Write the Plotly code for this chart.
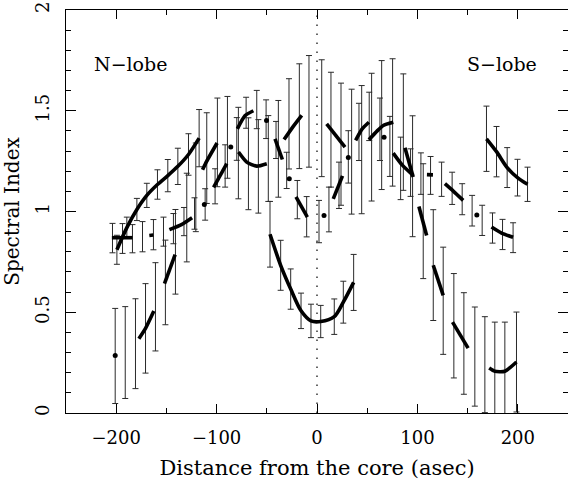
import plotly.graph_objects as go

# ---------------- Profile A (solid line, three stretches) ----------------
a_north_x = [-199.3, -189.4, -179.4, -169.5, -158.9, -148.6, -138.6, -128.0, -117.4]
a_north_y = [0.81, 0.92, 1.01, 1.08, 1.134, 1.178, 1.224, 1.283, 1.364]
a_north_err = [0.072, 0.052, 0.055, 0.06, 0.073, 0.08, 0.09, 0.103, 0.142]

a_core_x = [-46.8, -36.2, -26.2, -15.9, -6.0, 3.7, 17.2, 26.2, 36.5]
a_core_y = [0.887, 0.733, 0.615, 0.507, 0.457, 0.454, 0.478, 0.55, 0.648]
a_core_err = [0.163, 0.124, 0.1, 0.088, 0.083, 0.08, 0.088, 0.104, 0.139]

a_south_x = [168.8, 178.8, 189.4, 199.7, 209.7]
a_south_y = [1.361, 1.297, 1.218, 1.168, 1.135]
a_south_err = [0.162, 0.125, 0.099, 0.091, 0.085]

# ---------------- Profile B (dash-dot line) ----------------
b_x = [-203.7, -193.7, -183.8, -173.8, -162.9, -152.9, -143.0, -132.5, -122.0, -111.4,
       -101.5, -91.5, -79.9, -70.6, -60.0, -50.7, -40.8, -30.2, -19.6, -10.3,
       2.0, 11.9, 21.9, 31.2, 41.8, 52.0, 62.7, 72.6, 83.3, 93.2,
       103.5, 113.1, 124.1, 134.6, 144.6, 154.5, 164.5, 174.8, 184.8, 195.3]
b_y = [0.868, 0.866, 0.865, 0.875, 0.885, 0.90, 0.915, 0.95, 0.99, 1.035,
       1.125, 1.226, 1.36, 1.49, 1.506, 1.458, 1.355, 1.204, 1.059, 0.974,
       0.95, 1.01, 1.13, 1.271, 1.395, 1.472, 1.408, 1.323, 1.214, 1.193,
       1.188, 1.179, 1.16, 1.115, 1.061, 1.004, 0.956, 0.918, 0.886, 0.87]
b_err = [0.073, 0.074, 0.07, 0.075, 0.075, 0.072, 0.075, 0.07, 0.078, 0.078,
         0.087, 0.105, 0.106, 0.077, 0.095, 0.096, 0.092, 0.09, 0.095, 0.1,
         0.105, 0.111, 0.115, 0.13, 0.142, 0.12, 0.155, 0.149, 0.155, 0.118,
         0.103, 0.094, 0.085, 0.08, 0.077, 0.076, 0.075, 0.075, 0.075, 0.074]
# visible pieces of the dash-dot curve (single points are the dots)
b_pieces = [
    [(-204.3, 0.87), (-183.8, 0.87)],
    [(-167.0, 0.881), (-163.0, 0.883)],
    [(-147.0, 0.91), (-135.0, 0.935), (-124.4, 0.969)],
    [(-112.2, 1.035)],
    [(-103.0, 1.12), (-89.9, 1.237)],
    [(-85.9, 1.32)],
    [(-79.3, 1.41), (-71.6, 1.476), (-63.4, 1.50)],
    [(-50.3, 1.452)],
    [(-41.8, 1.36), (-34.5, 1.258)],
    [(-27.6, 1.163)],
    [(-20.9, 1.072), (-9.6, 0.972)],
    [(7.0, 0.98)],
    [(16.2, 1.063), (25.4, 1.177)],
    [(31.2, 1.268)],
    [(38.5, 1.353), (45.0, 1.41), (51.7, 1.443)],
    [(66.8, 1.369)],
    [(75.9, 1.29), (85.0, 1.23), (95.8, 1.179)],
    [(109.5, 1.183), (115.5, 1.182)],
    [(127.4, 1.138), (136.0, 1.1), (145.6, 1.055)],
    [(159.2, 0.983)],
    [(173.8, 0.923), (183.8, 0.893), (195.3, 0.872)],
]

# ---------------- Profile C (dashed line) ----------------
c_x = [-201.0, -191.0, -180.8, -170.8, -160.9, -151.0, -141.0, -129.7, -120.7, -109.8,
       -99.2, -89.2, -78.3, -68.3, -58.4, -48.5, -38.5, -27.9, -17.6, -8.0,
       4.7, 13.9, 23.9, 34.5, 44.5, 54.4, 64.4, 75.3, 86.0, 95.2,
       105.8, 115.8, 125.7, 136.3, 146.3, 157.2, 167.2, 177.1, 187.1, 198.7]
c_y = [0.283, 0.30, 0.344, 0.42, 0.527, 0.648, 0.80, 0.97, 1.12, 1.265,
       1.343, 1.368, 1.29, 1.237, 1.224, 1.263, 1.311, 1.435, 1.473, 1.497,
       1.463, 1.406, 1.334, 1.297, 1.307, 1.369, 1.429, 1.442, 1.394, 1.175,
       0.952, 0.734, 0.557, 0.433, 0.345, 0.28, 0.24, 0.207, 0.207, 0.253]
c_err = [0.236, 0.228, 0.223, 0.222, 0.219, 0.21, 0.21, 0.22, 0.22, 0.225,
         0.22, 0.203, 0.227, 0.228, 0.232, 0.213, 0.24, 0.224, 0.26, 0.277,
         0.29, 0.285, 0.303, 0.31, 0.318, 0.317, 0.32, 0.316, 0.289, 0.30,
         0.285, 0.275, 0.266, 0.259, 0.252, 0.246, 0.238, 0.244, 0.244, 0.248]
c_pieces = [
    [(-201.0, 0.285)],
    [(-177.4, 0.369), (-170.8, 0.42), (-162.5, 0.506)],
    [(-151.9, 0.642), (-141.3, 0.786)],
    [(-114.0, 1.207), (-109.8, 1.25), (-99.5, 1.34)],
    [(-78.2, 1.295), (-70.0, 1.245), (-60.0, 1.225), (-50.0, 1.237)],
    [(-32.8, 1.357), (-24.0, 1.42), (-15.2, 1.477)],
    [(9.6, 1.435), (27.9, 1.32)],
    [(51.7, 1.356), (60.0, 1.40), (66.0, 1.427), (76.0, 1.443)],
    [(87.6, 1.316), (95.8, 1.171)],
    [(101.5, 1.025), (109.2, 0.881)],
    [(115.8, 0.733), (125.7, 0.584)],
    [(135.0, 0.451), (150.5, 0.322)],
    [(171.5, 0.223), (177.1, 0.207), (187.1, 0.207), (198.7, 0.253)],
]

x_tick_vals = [-200, -100, 0, 100, 200]
y_tick_vals = [0, 0.5, 1, 1.5, 2]
labels = [("N\u2212lobe", -224.0, 1.73, "left"), ("S\u2212lobe", 221.0, 1.73, "right")]

FONT = "DejaVu Serif"
fig = go.Figure()


def err_trace(x, y, e):
    return go.Scatter(
        x=x, y=y, mode="markers",
        marker=dict(size=2, color="rgba(0,0,0,0)"),
        error_y=dict(type="data", array=e, visible=True, color="#2a2a2a",
                     thickness=1, width=3),
        showlegend=False, hoverinfo="skip")


def split_pieces(pieces):
    lx, ly, dx, dy = [], [], [], []
    for p in pieces:
        if len(p) == 1:
            dx.append(p[0][0])
            dy.append(p[0][1])
        else:
            for (px, py) in p:
                lx.append(px)
                ly.append(py)
            lx.append(None)
            ly.append(None)
    return lx, ly, dx, dy


# error bars
for xs, ys, es in [(a_north_x, a_north_y, a_north_err), (a_core_x, a_core_y, a_core_err),
                   (a_south_x, a_south_y, a_south_err), (b_x, b_y, b_err), (c_x, c_y, c_err)]:
    fig.add_trace(err_trace(xs, ys, es))

# solid profile A
for xs, ys in [(a_north_x, a_north_y), (a_core_x, a_core_y), (a_south_x, a_south_y)]:
    fig.add_trace(go.Scatter(x=xs, y=ys, mode="lines",
                             line=dict(color="black", width=3.6, shape="spline", smoothing=0.8),
                             showlegend=False, hoverinfo="skip"))

# broken profiles B and C
for pieces in (b_pieces, c_pieces):
    lx, ly, dx, dy = split_pieces(pieces)
    fig.add_trace(go.Scatter(x=lx, y=ly, mode="lines", connectgaps=False,
                             line=dict(color="black", width=3.6, shape="spline", smoothing=0.6),
                             showlegend=False, hoverinfo="skip"))
    fig.add_trace(go.Scatter(x=dx, y=dy, mode="markers",
                             marker=dict(color="black", size=5),
                             showlegend=False, hoverinfo="skip"))

# dotted line at the core
fig.add_shape(type="line", x0=0, x1=0, y0=0, y1=2, xref="x", yref="y",
              line=dict(color="black", width=1.2, dash="1.5px,7.5px"), layer="below")

for text, lx, ly, anchor in labels:
    fig.add_annotation(x=lx, y=ly, xref="x", yref="y", text=text, showarrow=False,
                       xanchor=anchor, yanchor="middle",
                       font=dict(family=FONT, size=19, color="black"))

fig.update_layout(
    width=568, height=485,
    margin=dict(l=66, r=0, t=10, b=72, autoexpand=False),
    paper_bgcolor="white", plot_bgcolor="white",
    showlegend=False,
    font=dict(family=FONT, size=18, color="black"),
)
fig.update_xaxes(
    range=[-250, 250], tickmode="array", tickvals=x_tick_vals,
    ticks="inside", ticklen=9, tickwidth=1, tickcolor="black",
    minor=dict(ticks="inside", ticklen=5, tickwidth=1, tickcolor="black", dtick=50, tick0=0),
    showline=True, linecolor="black", linewidth=1, mirror="ticks",
    showgrid=False, zeroline=False, ticklabelstandoff=8, automargin=False,
    ticklabeloverflow="allow",
    title=dict(text="Distance from the core (asec)", font=dict(size=21), standoff=13),
)
fig.update_yaxes(
    range=[0, 2], tickmode="array", tickvals=y_tick_vals, tickangle=-90,
    ticks="inside", ticklen=10, tickwidth=1, tickcolor="black",
    minor=dict(ticks="inside", ticklen=5, tickwidth=1, tickcolor="black", dtick=0.1, tick0=0),
    showline=True, linecolor="black", linewidth=1, mirror="ticks",
    showgrid=False, zeroline=False, ticklabelstandoff=9, automargin=False,
    ticklabeloverflow="allow",
    title=dict(text="Spectral Index", font=dict(size=20), standoff=9),
)

# remove the default page margin so the 568x485 figure fills the window
fig.write_html("out.html", config={"displayModeBar": False},
               post_script="document.body.style.margin='0';")
